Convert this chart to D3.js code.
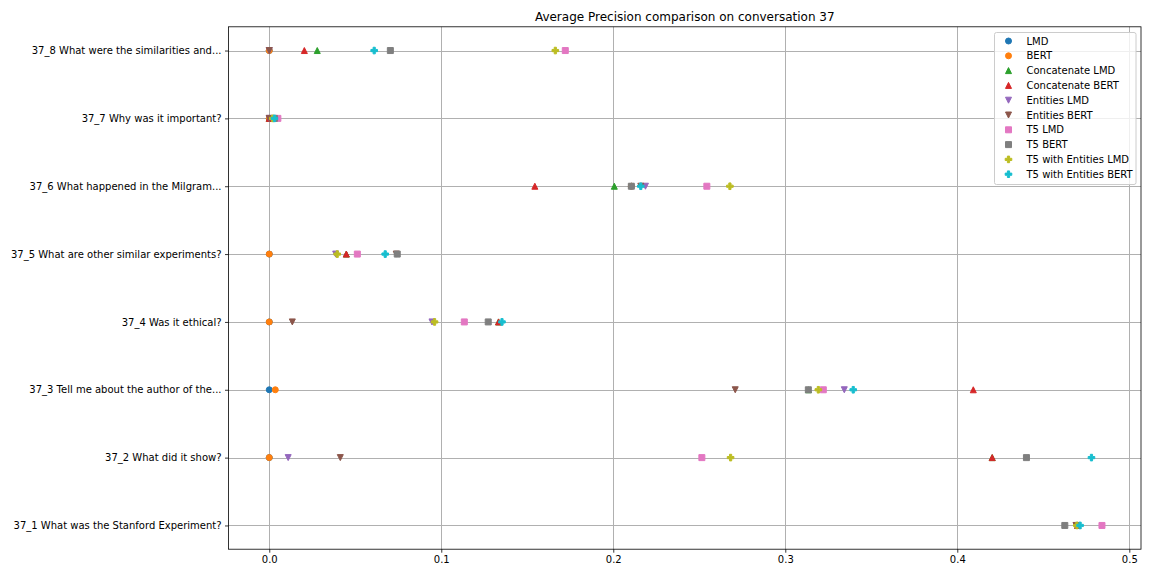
<!DOCTYPE html>
<html><head><meta charset="utf-8">
<script src="https://cdn.jsdelivr.net/npm/d3@7"></script>
<style>body{margin:0;background:#fff;} text{font-family:"DejaVu Sans",sans-serif;}</style>
</head><body>
<svg id="c" width="1152" height="576"></svg>
<script>
const categories = [
  "37_1 What was the Stanford Experiment?",
  "37_2 What did it show?",
  "37_3 Tell me about the author of the...",
  "37_4 Was it ethical?",
  "37_5 What are other similar experiments?",
  "37_6 What happened in the Milgram...",
  "37_7 Why was it important?",
  "37_8 What were the similarities and..."
];
const seriesNames = ["LMD","BERT","Concatenate LMD","Concatenate BERT","Entities LMD","Entities BERT","T5 LMD","T5 BERT","T5 with Entities LMD","T5 with Entities BERT"];
const seriesColors = ["#1f77b4","#ff7f0e","#2ca02c","#d62728","#9467bd","#8c564b","#e377c2","#7f7f7f","#bcbd22","#17becf"];
const seriesMarkers = ["o","o","^","^","v","v","s","s","P","P"];
// values per series, ordered like categories (37_1 ... 37_8)
const lmd       = [0.470, 0.000, 0.000, 0.000, 0.000, 0.2105, 0.000, 0.000];
const bert      = [0.470, 0.000, 0.0035,0.000, 0.000, 0.2105, 0.000, 0.000];
const concatLmd = [0.470, 0.4203,0.3135,0.1333,0.0448,0.2006, 0.000, 0.0279];
const concatBert= [0.470, 0.4203,0.4093,0.1333,0.0448,0.1544, 0.000, 0.0204];
const entLmd    = [0.470, 0.0110,0.3343,0.0946,0.0386,0.2187, 0.000, 0.000];
const entBert   = [0.469, 0.0413,0.2709,0.0134,0.0738,0.2160, 0.000, 0.000];
const t5Lmd     = [0.4841,0.2515,0.3221,0.1134,0.0512,0.2544, 0.005, 0.1721];
const t5Bert    = [0.4625,0.4402,0.3134,0.1273,0.0744,0.2105, 0.003, 0.0704];
const t5EntLmd  = [0.4695,0.2682,0.3192,0.0961,0.0395,0.2678, 0.002, 0.1663];
const t5EntBert = [0.4714,0.4780,0.3395,0.1353,0.0674,0.2160, 0.003, 0.0610];
const seriesValues = [lmd,bert,concatLmd,concatBert,entLmd,entBert,t5Lmd,t5Bert,t5EntLmd,t5EntBert];
const xTicks = [0.0,0.1,0.2,0.3,0.4,0.5];
const title = "Average Precision comparison on conversation 37";

const svg = d3.select("#c");
const L = 228.5, R = 1141, T = 26.8, B = 549.2;
const x = d3.scaleLinear().domain([-0.0237, 0.5068]).range([L, R]);
const y = d3.scaleLinear().domain([-0.35, categories.length - 1 + 0.35]).range([B, T]);

// grid
const g = svg.append("g");
g.selectAll(".gx").data(xTicks).enter().append("line")
  .attr("x1", d => Math.round(x(d)) + 0.5).attr("x2", d => Math.round(x(d)) + 0.5)
  .attr("y1", T).attr("y2", B).attr("stroke", "#b0b0b0").attr("stroke-width", 1);
g.selectAll(".gy").data(categories).enter().append("line")
  .attr("y1", (d,i) => Math.round(y(i)) + 0.5).attr("y2", (d,i) => Math.round(y(i)) + 0.5)
  .attr("x1", L).attr("x2", R).attr("stroke", "#b0b0b0").attr("stroke-width", 1);

// axes
const xAxis = d3.axisBottom(x).tickValues(xTicks).tickFormat(d3.format(".1f")).tickSize(3.5).tickPadding(3.5);
const xg = svg.append("g").attr("transform", `translate(0,${B})`).call(xAxis);
xg.select(".domain").remove();
xg.selectAll("text").attr("font-size", 10).attr("fill", "#000").attr("font-family", "DejaVu Sans");
xg.selectAll("line").attr("stroke", "#000").attr("stroke-width", 0.8);

const yAxis = d3.axisLeft(y).tickValues(d3.range(categories.length)).tickFormat(i => categories[i]).tickSize(3.5).tickPadding(3.5);
const yg = svg.append("g").attr("transform", `translate(${L},0)`).call(yAxis);
yg.select(".domain").remove();
yg.selectAll("text").attr("font-size", 10).attr("fill", "#000").attr("font-family", "DejaVu Sans");
yg.selectAll("line").attr("stroke", "#000").attr("stroke-width", 0.8);

// marker paths
function markerPath(m) {
  const s = 3;
  if (m === "o") return d3.symbol(d3.symbolCircle, Math.PI * 9)();
  if (m === "s") return `M${-s},${-s}H${s}V${s}H${-s}Z`;
  if (m === "^") return `M0,${-s}L${s},${s}L${-s},${s}Z`;
  if (m === "v") return `M0,${s}L${s},${-s}L${-s},${-s}Z`;
  if (m === "P") {
    const a = 1.1, b = 3.3;
    return `M${-a},${-b}H${a}V${-a}H${b}V${a}H${a}V${b}H${-a}V${a}H${-b}V${-a}H${-a}Z`;
  }
}

const pts = svg.append("g");
seriesValues.forEach((vals, si) => {
  pts.selectAll(null).data(vals).enter().append("path")
    .attr("d", markerPath(seriesMarkers[si]))
    .attr("transform", (d, i) => `translate(${x(d)},${y(i)})`)
    .attr("fill", seriesColors[si]).attr("stroke", seriesColors[si]).attr("stroke-width", 1);
});

// frame
svg.append("rect").attr("x", L).attr("y", T).attr("width", R - L).attr("height", B - T)
  .attr("fill", "none").attr("stroke", "#000").attr("stroke-width", 0.8);

// title
svg.append("text").attr("x", (L + R) / 2).attr("y", 21).attr("text-anchor", "middle")
  .attr("font-size", 12).text(title);

// legend
const lg = svg.append("g");
lg.append("rect").attr("x", 994.5).attr("y", 32.5).attr("width", 141.5).attr("height", 152)
  .attr("rx", 2).attr("fill", "#fff").attr("fill-opacity", 0.8).attr("stroke", "#cccccc").attr("stroke-width", 1);
seriesNames.forEach((n, i) => {
  const yy = 41 + i * 14.8;
  lg.append("path").attr("d", markerPath(seriesMarkers[i])).attr("transform", `translate(1008.5,${yy})`)
    .attr("fill", seriesColors[i]).attr("stroke", seriesColors[i]).attr("stroke-width", 1);
  lg.append("text").attr("x", 1026.5).attr("y", yy + 3.6).attr("font-size", 10).text(n);
});
</script>
</body></html>
